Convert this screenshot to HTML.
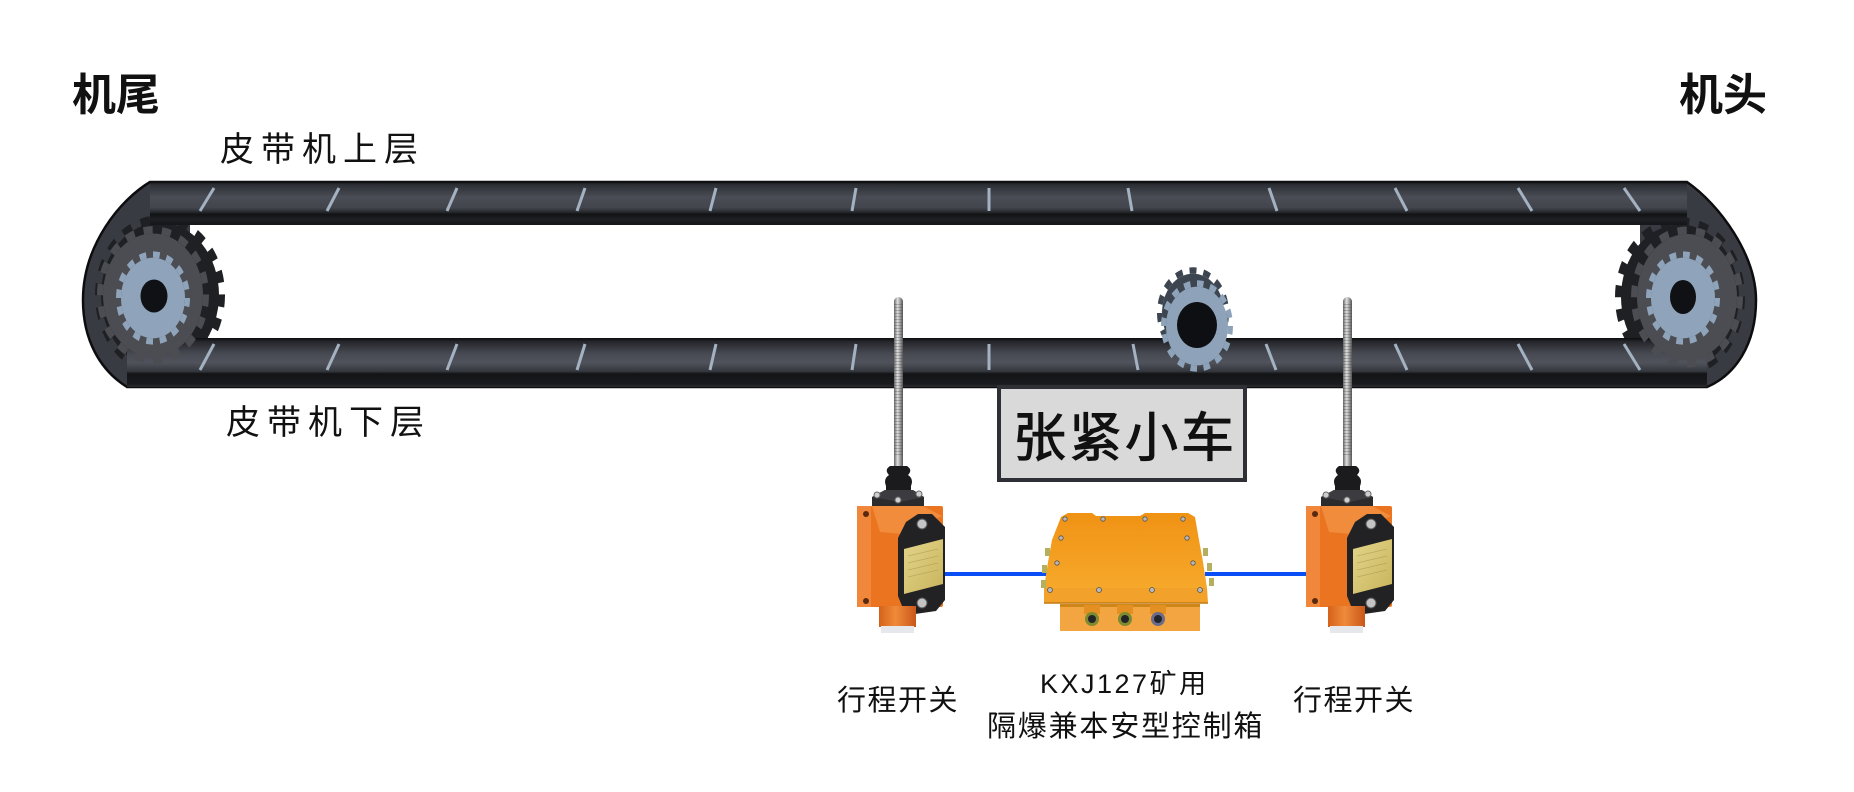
<!DOCTYPE html>
<html><head><meta charset="utf-8"><style>
html,body{margin:0;padding:0;background:#fff;width:1854px;height:792px;overflow:hidden}
svg{display:block;font-family:"Liberation Sans","Noto Sans CJK SC",sans-serif}
</style></head><body>
<svg width="1854" height="792" viewBox="0 0 1854 792" xmlns="http://www.w3.org/2000/svg">
<defs>
<linearGradient id="topRun" x1="0" y1="0" x2="0" y2="1">
<stop offset="0" stop-color="#0c0c0e"/><stop offset="0.06" stop-color="#2c2e34"/>
<stop offset="0.35" stop-color="#4a4d55"/><stop offset="0.6" stop-color="#42454c"/>
<stop offset="0.7" stop-color="#26282c"/><stop offset="0.75" stop-color="#111214"/>
<stop offset="0.86" stop-color="#1f2024"/><stop offset="1" stop-color="#151619"/>
</linearGradient>
<linearGradient id="lowRun" x1="0" y1="0" x2="0" y2="1">
<stop offset="0" stop-color="#0c0c0e"/><stop offset="0.08" stop-color="#26282d"/>
<stop offset="0.32" stop-color="#474a52"/><stop offset="0.5" stop-color="#50535b"/>
<stop offset="0.68" stop-color="#34373d"/><stop offset="0.73" stop-color="#131416"/>
<stop offset="0.94" stop-color="#1a1b1e"/><stop offset="1" stop-color="#2a2b2e"/>
</linearGradient>
<linearGradient id="rod" x1="0" y1="0" x2="1" y2="0">
<stop offset="0" stop-color="#666"/><stop offset="0.4" stop-color="#e0e0e0"/>
<stop offset="0.7" stop-color="#9a9a9a"/><stop offset="1" stop-color="#555"/>
</linearGradient>
<linearGradient id="cyl" x1="0" y1="0" x2="1" y2="0">
<stop offset="0" stop-color="#d5621a"/><stop offset="0.45" stop-color="#f08a3a"/>
<stop offset="1" stop-color="#c9581a"/>
</linearGradient>
<linearGradient id="lid" x1="0" y1="0" x2="0" y2="1">
<stop offset="0" stop-color="#f09214"/><stop offset="1" stop-color="#f6a82a"/>
</linearGradient>
<linearGradient id="lbl" x1="0" y1="0" x2="1" y2="1">
<stop offset="0" stop-color="#e2d58a"/><stop offset="1" stop-color="#c9b45c"/>
</linearGradient>
<clipPath id="beltClip">
<path d="M150,182 L1687,182 C1720,205 1756,255 1756,300 C1756,345 1735,375 1707,387 L127,387 C100,370 83,340 83,300 C83,245 120,200 150,182 Z"/>
</clipPath>
</defs>

<path d="M150,182 L1687,182 C1720,205 1756,255 1756,300 C1756,345 1735,375 1707,387 L127,387 C100,370 83,340 83,300 C83,245 120,200 150,182 Z" fill="#393b42" stroke="#0d0d0f" stroke-width="2.5"/>
<rect x="190" y="225" width="1450" height="113" fill="#fff"/>

<g clip-path="url(#beltClip)">
<g transform="translate(160,295) scale(1,1.23)">
<circle r="59" fill="#1f2023"/>
<circle r="61.5" fill="none" stroke="#1f2023" stroke-width="7" pathLength="40" stroke-dasharray="1 1"/>
</g>
<g transform="translate(1680,297) scale(1,1.23)">
<circle r="59" fill="#1f2023"/>
<circle r="61.5" fill="none" stroke="#1f2023" stroke-width="7" pathLength="40" stroke-dasharray="1 1"/>
</g>
</g>

<rect x="150" y="182" width="1537" height="43" fill="url(#topRun)"/>
<rect x="127" y="338" width="1580" height="49" fill="url(#lowRun)"/>

<g stroke="#a3b1c1" stroke-width="3">
<line x1="214" y1="188" x2="200" y2="211"/>
<line x1="339" y1="188" x2="327" y2="211"/>
<line x1="457" y1="188" x2="447" y2="211"/>
<line x1="585" y1="188" x2="577" y2="211"/>
<line x1="716" y1="188" x2="710" y2="211"/>
<line x1="856" y1="188" x2="852" y2="211"/>
<line x1="989" y1="188" x2="989" y2="211"/>
<line x1="1128" y1="188" x2="1132" y2="211"/>
<line x1="1269" y1="188" x2="1277" y2="211"/>
<line x1="1395" y1="188" x2="1407" y2="211"/>
<line x1="1518" y1="188" x2="1532" y2="211"/>
<line x1="1624" y1="188" x2="1640" y2="211"/>

<line x1="214" y1="344" x2="200" y2="370"/>
<line x1="339" y1="344" x2="327" y2="370"/>
<line x1="457" y1="344" x2="447" y2="370"/>
<line x1="585" y1="344" x2="577" y2="370"/>
<line x1="716" y1="344" x2="710" y2="370"/>
<line x1="856" y1="344" x2="852" y2="370"/>
<line x1="989" y1="344" x2="989" y2="370"/>
<line x1="1133" y1="344" x2="1138" y2="370"/>
<line x1="1266" y1="344" x2="1276" y2="370"/>
<line x1="1395" y1="344" x2="1407" y2="370"/>
<line x1="1518" y1="344" x2="1532" y2="370"/>
<line x1="1624" y1="344" x2="1640" y2="370"/>
</g>

<g clip-path="url(#beltClip)">
<g transform="translate(153,295) scale(1,1.23)">
<circle r="50" fill="#4b4d53"/>
<circle r="53" fill="none" stroke="#4b4d53" stroke-width="6" pathLength="36" stroke-dasharray="1 1"/>
</g>
<g transform="translate(153,298) scale(1,1.26)">
<circle r="32" fill="#8fa4ba"/>
<circle r="34.5" fill="none" stroke="#8fa4ba" stroke-width="5" pathLength="32" stroke-dasharray="1 1"/>
</g>
<ellipse cx="154" cy="296" rx="13.5" ry="16.5" fill="#101114"/>

<g transform="translate(1687,297) scale(1,1.26)">
<circle r="50" fill="#4b4d53"/>
<circle r="53" fill="none" stroke="#4b4d53" stroke-width="6" pathLength="36" stroke-dasharray="1 1"/>
</g>
<g transform="translate(1683,298) scale(1,1.26)">
<circle r="32" fill="#8fa4ba"/>
<circle r="34.5" fill="none" stroke="#8fa4ba" stroke-width="5" pathLength="32" stroke-dasharray="1 1"/>
</g>
<ellipse cx="1683" cy="297" rx="13" ry="17" fill="#101114"/>
</g>

<g transform="translate(1193,313) scale(1,1.27)">
<circle r="31" fill="#3d4550"/>
<circle r="33.5" fill="none" stroke="#3d4550" stroke-width="5" pathLength="30" stroke-dasharray="1 1"/>
</g>
<g transform="translate(1197,326) scale(1,1.27)">
<circle r="31" fill="#8ea3b9"/>
<circle r="33.5" fill="none" stroke="#8ea3b9" stroke-width="5" pathLength="32" stroke-dasharray="1 1"/>
</g>
<ellipse cx="1197" cy="325" rx="20" ry="23" fill="#0e0f12"/>

<rect x="999" y="387" width="246" height="93" fill="#d9d9d9" stroke="#2e3036" stroke-width="4"/>

<rect x="943" y="572" width="105" height="4" fill="#0a4ef5"/>
<rect x="1205" y="572" width="101" height="4" fill="#0a4ef5"/>

<g id="sw">
<rect x="894" y="297" width="9" height="176" rx="4.5" fill="url(#rod)"/>
<line x1="898.5" y1="304" x2="898.5" y2="456" stroke="#444" stroke-width="9" stroke-dasharray="1 2" opacity="0.3"/>
<path d="M886,499 L886,486 Q883,479 889,475 Q884,470 890,466 L907,466 Q913,470 908,475 Q914,479 911,486 L911,499 Z" fill="#1b1b1d"/>
<polygon points="872,497 885,490 913,490 924,497 924,509 900,515 872,509" fill="#2b2b2e"/>
<polygon points="872,497 885,490 913,490 924,497 900,502" fill="#3c3c40"/>
<circle cx="877" cy="495" r="3" fill="#cfcfcf" stroke="#666" stroke-width="1"/>
<circle cx="898" cy="500" r="3" fill="#cfcfcf" stroke="#666" stroke-width="1"/>
<circle cx="919" cy="494" r="3" fill="#cfcfcf" stroke="#666" stroke-width="1"/>
<rect x="857" y="506" width="86" height="101" rx="2" fill="#ea7420"/>
<rect x="857" y="506" width="14" height="101" fill="#f0873a"/>
<polygon points="872,506 923,506 942,516 902,534 880,532" fill="#f18c3c"/>
<circle cx="866" cy="514" r="3" fill="#5a2a10"/>
<circle cx="866" cy="601" r="3" fill="#5a2a10"/>
<polygon points="898,538 906,522 918,514 932,514 945,527 945,600 936,611 915,614 902,606 898,596" fill="#222224"/>
<polygon points="904,549 943,539 943,584 904,594" fill="url(#lbl)"/>
<g stroke="#a89650" stroke-width="0.8" opacity="0.6">
<line x1="908" y1="556" x2="938" y2="549"/><line x1="908" y1="563" x2="938" y2="556"/>
<line x1="908" y1="570" x2="938" y2="563"/><line x1="908" y1="577" x2="938" y2="570"/>
</g>
<circle cx="922" cy="524" r="5" fill="#c4c4c4" stroke="#555" stroke-width="1"/>
<circle cx="922" cy="603" r="5" fill="#c4c4c4" stroke="#555" stroke-width="1"/>
<rect x="879" y="606" width="37" height="21" fill="url(#cyl)"/>
<rect x="881" y="626" width="33" height="7" fill="#e6e8ec"/>
</g>
<use href="#sw" transform="translate(449,0)"/>

<polygon points="1061,517 1068,513 1092,513 1096,516 1140,516 1145,513 1188,513 1195,517 1199,540 1203,562 1207,588 1044,588 1048,562 1052,540" fill="url(#lid)"/>
<polygon points="1044,588 1207,588 1208,603 1044,603" fill="#f2a22a"/>
<line x1="1044" y1="603" x2="1208" y2="603" stroke="#c47a12" stroke-width="1.5"/>
<rect x="1060" y="604" width="140" height="27" fill="#f2a540"/>
<rect x="1060" y="604" width="140" height="3" fill="#cf8618"/>
<g fill="#b8b8b8" stroke="#555" stroke-width="0.8">
<circle cx="1065" cy="519" r="2.2"/><circle cx="1103" cy="519" r="2.2"/><circle cx="1145" cy="519" r="2.2"/><circle cx="1183" cy="519" r="2.2"/>
<circle cx="1061" cy="538" r="2.2"/><circle cx="1187" cy="538" r="2.2"/>
<circle cx="1057" cy="563" r="2.2"/><circle cx="1193" cy="563" r="2.2"/>
<circle cx="1050" cy="590" r="2.5"/><circle cx="1099" cy="590" r="2.5"/><circle cx="1152" cy="590" r="2.5"/><circle cx="1200" cy="590" r="2.5"/>
</g>
<g fill="#b4b060">
<rect x="1045" y="548" width="5" height="8"/><rect x="1042" y="565" width="5" height="8"/><rect x="1041" y="580" width="5" height="8"/>
<rect x="1203" y="548" width="5" height="8"/><rect x="1207" y="563" width="5" height="8"/><rect x="1209" y="578" width="5" height="8"/>
</g>
<g>
<rect x="1084" y="605" width="16" height="9" fill="#e48f22"/>
<circle cx="1092" cy="619" r="7" fill="#7d8a30"/><circle cx="1092" cy="619" r="4" fill="#23242a"/>
<rect x="1117" y="605" width="16" height="9" fill="#e48f22"/>
<circle cx="1125" cy="619" r="7" fill="#7d8a30"/><circle cx="1125" cy="619" r="4" fill="#23242a"/>
<rect x="1150" y="605" width="16" height="9" fill="#e48f22"/>
<circle cx="1158" cy="619" r="7" fill="#6a6a8a"/><circle cx="1158" cy="619" r="4" fill="#23242a"/>
</g>

<g fill="#111">
<text x="72" y="110" font-size="44" font-weight="bold">机尾</text>
<text x="1679" y="110" font-size="44" font-weight="bold">机头</text>
<text x="220" y="161" font-size="34" style="letter-spacing:7px">皮带机上层</text>
<text x="226" y="434" font-size="34" style="letter-spacing:7px">皮带机下层</text>
<text x="1013" y="456" font-size="53" stroke="#111" stroke-width="1" style="letter-spacing:3px">张紧小车</text>
<text x="837" y="710" font-size="29" style="letter-spacing:1.5px">行程开关</text>
<text x="1293" y="710" font-size="29" style="letter-spacing:1.5px">行程开关</text>
<text x="1040" y="693" font-size="27" style="letter-spacing:2.5px">KXJ127矿用</text>
<text x="987" y="736" font-size="29" style="letter-spacing:1.8px">隔爆兼本安型控制箱</text>
</g>
</svg>
</body></html>
